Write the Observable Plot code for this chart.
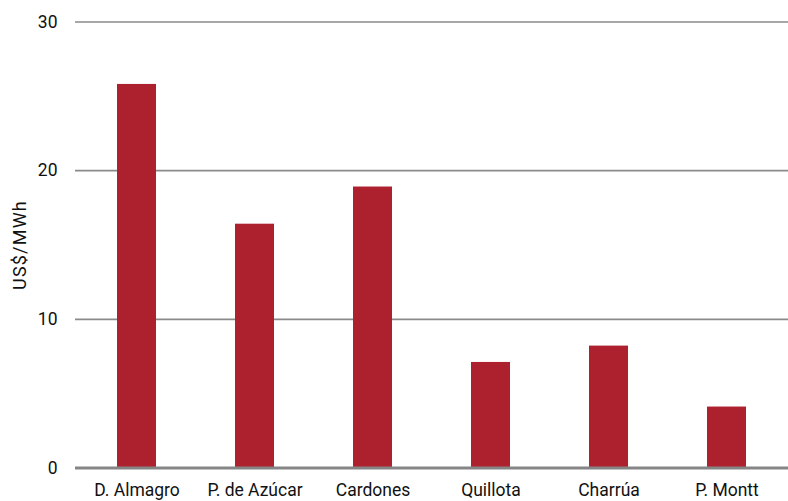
<!DOCTYPE html>
<html>
<head>
<meta charset="utf-8">
<script src="https://cdn.jsdelivr.net/npm/d3@7"></script>
<script src="https://cdn.jsdelivr.net/npm/@observablehq/plot@0.6"></script>
<style>
  html, body { margin: 0; padding: 0; background: #fff; }
  #chart svg { display: block; }
</style>
</head>
<body>
<div id="chart"></div>
<script>
// Substations and their average values (US$/MWh)
const substations = ["D. Almagro", "P. de Azúcar", "Cardones", "Quillota", "Charrúa", "P. Montt"];
const values = [25.8, 16.4, 18.9, 7.1, 8.2, 4.1];
const yTicks = [0, 10, 20, 30];

const data = substations.map((name, i) => ({name, value: values[i]}));

const font = "Roboto, 'Liberation Sans', Arial, sans-serif";

const chart = Plot.plot({
  width: 788,
  height: 501,
  marginTop: 21.5,
  marginBottom: 33.5,
  marginLeft: 75,
  marginRight: 0,
  style: {fontFamily: font, fontSize: "17.5px", color: "#111", background: "#fff"},
  x: {
    domain: substations,
    paddingInner: 0.67,
    paddingOuter: 0.335,
    label: null
  },
  y: {
    domain: [0, 30],
    ticks: yTicks,
    label: null
  },
  marks: [
    Plot.gridY(yTicks.filter(d => d > 0), {stroke: "#8a8a8a", strokeOpacity: 1, strokeWidth: 1.6}),
    Plot.barY(data, {x: "name", y: "value", fill: "#ad202e"}),
    Plot.ruleY([0], {stroke: "#858585", strokeWidth: 3}),
    Plot.axisY({ticks: yTicks, tickSize: 0, tickPadding: 18, label: null}),
    Plot.axisX({tickSize: 0, tickPadding: 16, label: null}),
    Plot.text(["US$/MWh"], {
      frameAnchor: "left",
      textAnchor: "middle",
      dx: -55,
      rotate: -90,
      fontSize: 18,
      style: {letterSpacing: "1px"}
    })
  ]
});

// letter spacing for the axis title
chart.querySelectorAll("text").forEach(t => {
  if (t.textContent === "US$/MWh") t.setAttribute("letter-spacing", "1.2");
});

document.getElementById("chart").appendChild(chart);
</script>
</body>
</html>
